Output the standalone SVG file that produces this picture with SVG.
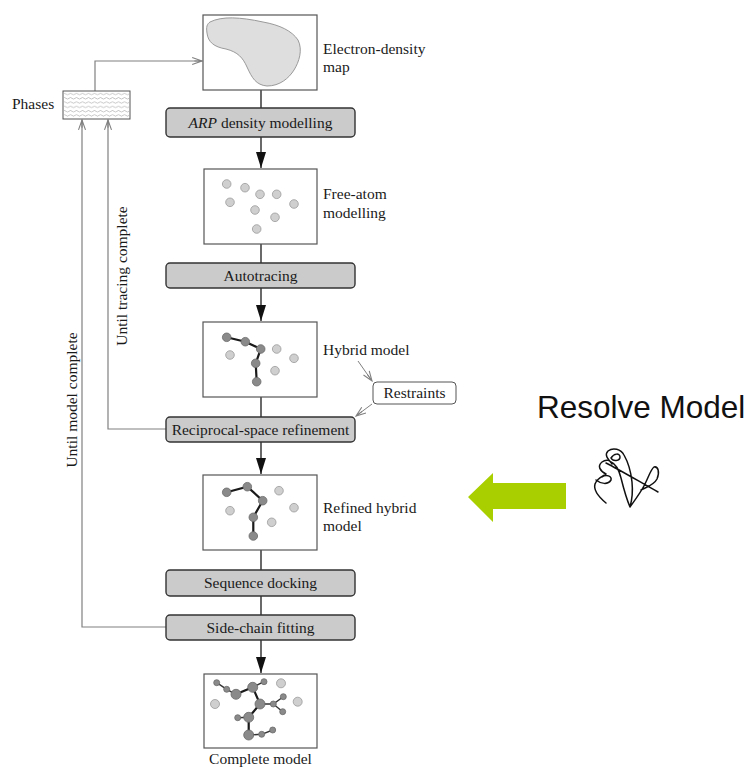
<svg xmlns="http://www.w3.org/2000/svg" width="749" height="769" viewBox="0 0 749 769">
  <style>
    .serif { font-family: "Liberation Serif", "Times New Roman", serif; font-size: 15.5px; fill: #1a1a1a; }
    .sans { font-family: "Liberation Sans", Arial, sans-serif; fill: #111; }
    .frame { fill: #fff; stroke: #555; stroke-width: 1.2; }
    .step { fill: #cbcbcb; stroke: #333; stroke-width: 1.4; }
    .flow { fill: none; stroke: #1a1a1a; stroke-width: 1.3; }
    .loop { fill: none; stroke: #808080; stroke-width: 1.2; }
    .thin { fill: none; stroke: #808080; stroke-width: 1; }
    .free { fill: #cfcfcf; stroke: #9a9a9a; stroke-width: 0.8; }
    .bound { fill: #8a8a8a; stroke: #6a6a6a; stroke-width: 0.8; }
    .bond { fill: none; stroke: #1a1a1a; stroke-width: 2.2; stroke-linecap: round; }
    .bondthin { fill: none; stroke: #333; stroke-width: 1.4; stroke-linecap: round; }
  </style>
  <defs>
    <marker id="solid" markerUnits="userSpaceOnUse" markerWidth="16" markerHeight="10" refX="16" refY="5" orient="auto" viewBox="0 0 16 10">
      <path d="M0,0 L16,5 L0,10 Z" fill="#111"/>
    </marker>
    <marker id="open" markerUnits="userSpaceOnUse" markerWidth="12" markerHeight="12" refX="10" refY="4" orient="auto" viewBox="0 0 11 8">
      <path d="M1,0.8 L10,4 L1,7.2 M3,4 L10,4" fill="none" stroke="#808080" stroke-width="1"/>
    </marker>
    <pattern id="waves" patternUnits="userSpaceOnUse" x="63" y="92" width="6" height="4.3">
      <path d="M0,2 Q1.5,0.6 3,2 T6,2" fill="none" stroke="#9a9a9a" stroke-width="0.6"/>
    </pattern>
  </defs>

  <!-- connectors -->
  <g id="connectors">
    <!-- main column -->
    <line class="flow" x1="261" y1="90" x2="261" y2="108"/>
    <line class="flow" x1="261" y1="137" x2="261" y2="168" marker-end="url(#solid)"/>
    <line class="flow" x1="261" y1="244" x2="261" y2="263"/>
    <line class="flow" x1="261" y1="288" x2="261" y2="321" marker-end="url(#solid)"/>
    <line class="flow" x1="261" y1="397" x2="261" y2="417"/>
    <line class="flow" x1="261" y1="442" x2="261" y2="474" marker-end="url(#solid)"/>
    <line class="flow" x1="261" y1="550" x2="261" y2="570"/>
    <line class="flow" x1="261" y1="596" x2="261" y2="615"/>
    <line class="flow" x1="261" y1="640" x2="261" y2="673" marker-end="url(#solid)"/>
    <!-- feedback loops -->
    <polyline class="loop" points="95,91 95,61 202,61" marker-end="url(#open)"/>
    <polyline class="loop" points="166,429 108,429 108,120" marker-end="url(#open)"/>
    <polyline class="loop" points="166,627 82,627 82,120" marker-end="url(#open)"/>
    <!-- restraints -->
    <line class="thin" x1="358" y1="361" x2="372" y2="381" marker-end="url(#open)"/>
    <line class="thin" x1="372" y1="404" x2="356" y2="416" marker-end="url(#open)"/>
  </g>

  <g id="phases">
    <rect x="63" y="91" width="67" height="28" fill="#fff" stroke="#555" stroke-width="1"/>
    <rect x="64" y="92" width="65" height="26" fill="url(#waves)"/>
    <text class="serif" x="12" y="109">Phases</text>
  </g>

  <g id="density-map">
    <rect class="frame" x="203" y="15" width="114" height="75"/>
    <path d="M210,22 C222,16 240,17 263,22 C280,25 292,31 298,40 C303,50 299,62 294,70 C289,78 280,86 267,86 C256,85 252,78 247,67 C243,58 238,52 226,49 C214,47 208,42 207,33 C206,27 207,24 210,22 Z" fill="#dedede" stroke="#9a9a9a" stroke-width="1"/>
    <text class="serif" x="323" y="54">Electron-density</text>
    <text class="serif" x="323" y="72">map</text>
  </g>

  <g id="arp">
    <rect class="step" x="166" y="108" width="189" height="29" rx="4"/>
    <text class="serif" x="260.5" y="128" text-anchor="middle"><tspan font-style="italic">ARP</tspan> density modelling</text>
  </g>

  <g id="free-atom">
    <rect class="frame" x="204" y="169" width="113" height="75"/>
    <circle class="free" cx="226.7" cy="184" r="4.3"/>
    <circle class="free" cx="245" cy="187.7" r="4.3"/>
    <circle class="free" cx="260" cy="194.3" r="4.3"/>
    <circle class="free" cx="276.7" cy="194.3" r="4.3"/>
    <circle class="free" cx="294" cy="204" r="4.3"/>
    <circle class="free" cx="230" cy="202.3" r="4.3"/>
    <circle class="free" cx="255" cy="210" r="4.3"/>
    <circle class="free" cx="275" cy="217.3" r="4.3"/>
    <circle class="free" cx="256.7" cy="229" r="4.3"/>
    <text class="serif" x="323" y="199">Free-atom</text>
    <text class="serif" x="323" y="218">modelling</text>
  </g>

  <g id="autotracing">
    <rect class="step" x="166" y="263" width="189" height="25" rx="4"/>
    <text class="serif" x="260.5" y="281" text-anchor="middle">Autotracing</text>
  </g>

  <g id="hybrid">
    <rect class="frame" x="203" y="322" width="114" height="75"/>
    <polyline class="bond" points="226.7,337.3 245.3,341.7 260.7,349 255.7,363.3 256.7,381.7"/>
    <circle class="bound" cx="226.7" cy="337.3" r="4.3"/>
    <circle class="bound" cx="245.3" cy="341.7" r="4.3"/>
    <circle class="bound" cx="260.7" cy="349" r="4.3"/>
    <circle class="bound" cx="255.7" cy="363.3" r="4.3"/>
    <circle class="bound" cx="256.7" cy="381.7" r="4.3"/>
    <circle class="free" cx="230" cy="355" r="4.3"/>
    <circle class="free" cx="276.7" cy="349" r="4.3"/>
    <circle class="free" cx="294" cy="358.3" r="4.3"/>
    <circle class="free" cx="275" cy="370.7" r="4.3"/>
    <text class="serif" x="323" y="355">Hybrid model</text>
  </g>

  <g id="restraints">
    <rect x="373" y="382" width="83" height="22" rx="4" fill="#fff" stroke="#555" stroke-width="1"/>
    <text class="serif" x="414.5" y="398" text-anchor="middle">Restraints</text>
  </g>

  <g id="reciprocal">
    <rect class="step" x="166" y="417" width="189" height="25" rx="4"/>
    <text class="serif" x="260.5" y="435" text-anchor="middle">Reciprocal-space refinement</text>
  </g>

  <g id="refined">
    <rect class="frame" x="203" y="475" width="114" height="75"/>
    <polyline class="bond" points="226.7,492.3 247.3,486.7 262.7,500.7 253.3,517.3 253.3,536"/>
    <circle class="bound" cx="226.7" cy="492.3" r="4.3"/>
    <circle class="bound" cx="247.3" cy="486.7" r="4.3"/>
    <circle class="bound" cx="262.7" cy="500.7" r="4.3"/>
    <circle class="bound" cx="253.3" cy="517.3" r="4.3"/>
    <circle class="bound" cx="253.3" cy="536" r="4.3"/>
    <circle class="free" cx="230" cy="510.7" r="4.3"/>
    <circle class="free" cx="279" cy="490.7" r="4.3"/>
    <circle class="free" cx="294" cy="507.7" r="4.3"/>
    <circle class="free" cx="271.7" cy="522.3" r="4.3"/>
    <text class="serif" x="323" y="513">Refined hybrid</text>
    <text class="serif" x="323" y="531">model</text>
  </g>

  <g id="sequence">
    <rect class="step" x="166" y="570" width="189" height="26" rx="4"/>
    <text class="serif" x="260.5" y="588" text-anchor="middle">Sequence docking</text>
  </g>

  <g id="side-chain">
    <rect class="step" x="166" y="615" width="189" height="25" rx="4"/>
    <text class="serif" x="260.5" y="633" text-anchor="middle">Side-chain fitting</text>
  </g>

  <g id="complete">
    <rect class="frame" x="204" y="674" width="113" height="74"/>
    <polyline class="bondthin" points="216.7,682.7 226.7,689.3 236,694.3"/>
    <polyline class="bond" points="236,694.3 252.7,687.3 260,704 248.7,717.3 248.7,735"/>
    <polyline class="bondthin" points="252.7,687.3 264,681.7"/>
    <polyline class="bondthin" points="260,704 273.3,704 283.3,696.7"/>
    <polyline class="bondthin" points="273.3,704 282.7,711.7"/>
    <polyline class="bondthin" points="248.7,717.3 237.7,717.7"/>
    <polyline class="bondthin" points="248.7,735 261.7,734.3 272.7,730"/>
    <circle class="bound" cx="216.7" cy="682.7" r="3"/>
    <circle class="bound" cx="226.7" cy="689.3" r="3"/>
    <circle class="bound" cx="236" cy="694.3" r="5"/>
    <circle class="bound" cx="252.7" cy="687.3" r="5"/>
    <circle class="bound" cx="264" cy="681.7" r="3"/>
    <circle class="bound" cx="260" cy="704" r="5"/>
    <circle class="bound" cx="273.3" cy="704" r="3"/>
    <circle class="bound" cx="283.3" cy="696.7" r="3"/>
    <circle class="bound" cx="282.7" cy="711.7" r="3"/>
    <circle class="bound" cx="248.7" cy="717.3" r="5"/>
    <circle class="bound" cx="237.7" cy="717.7" r="3"/>
    <circle class="bound" cx="248.7" cy="735" r="5"/>
    <circle class="bound" cx="261.7" cy="734.3" r="3"/>
    <circle class="bound" cx="272.7" cy="730" r="3"/>
    <circle class="free" cx="281" cy="683.3" r="4.5"/>
    <circle class="free" cx="215" cy="704" r="4.5"/>
    <circle class="free" cx="297.7" cy="701.7" r="4.5"/>
    <text class="serif" x="260.5" y="764" text-anchor="middle">Complete model</text>
  </g>

  <g id="loop-labels">
    <text class="serif" font-size="16" transform="translate(127,276) rotate(-90)" text-anchor="middle">Until tracing complete</text>
    <text class="serif" font-size="16" transform="translate(77,400) rotate(-90)" text-anchor="middle">Until model complete</text>
  </g>

  <g id="resolve">
    <text class="sans" x="537" y="418" font-size="31.5">Resolve Model</text>
    <polygon points="468,497 493,473 493,483 566,483 566,509 493,509 493,522" fill="#a9cf00"/>
    <!-- hand-drawn tangle -->
    <path d="M606,503 C600,498 593,491 595,484 C597,478 603,476 606,474
             C600,471 597,466 602,462 C606,459 611,460 612,464
             C608,459 604,455 608,451 C613,447 621,449 624,455
             C628,462 631,472 632,482 C633,492 632,500 630,507
             C627,500 624,490 621,478 C619,470 616,464 611,462
             M606,463 C620,470 640,482 658,492
             M611,458 C614,453 620,453 620,457 C620,461 613,462 611,458
             M596,480 C601,484 608,485 611,480 C612,476 606,474 602,477
             M630,507 C635,500 641,492 645,484 C649,476 651,469 654,467
             C658,466 660,472 657,479 C654,485 647,487 641,490"
          fill="none" stroke="#111" stroke-width="1.5" stroke-linecap="round" stroke-linejoin="round"/>
  </g>
</svg>
